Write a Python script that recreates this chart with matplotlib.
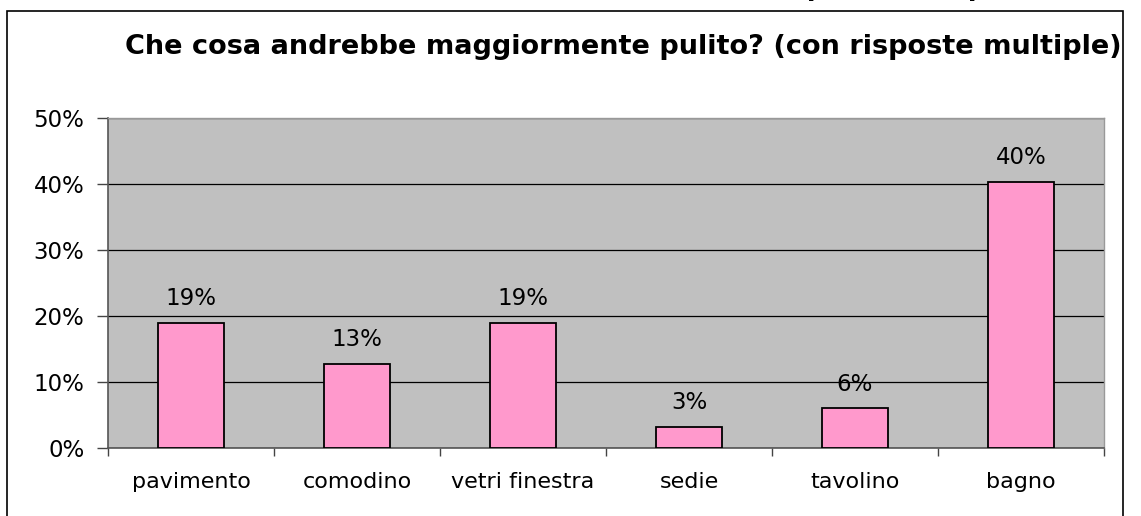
import matplotlib.pyplot as plt
from matplotlib.patches import Rectangle
from matplotlib.ticker import FuncFormatter, FixedLocator

categories = ['pavimento', 'comodino', 'vetri finestra', 'sedie', 'tavolino', 'bagno']
values = [19.0, 12.8, 19.0, 3.2, 6.0, 40.3]
title = 'Che cosa andrebbe maggiormente pulito? (con risposte multiple)'

plt.rcParams['font.family'] = ['DejaVu Sans']

W, H = 1141, 516
fig = plt.figure(figsize=(W / 100, H / 100), dpi=100)
ax = fig.add_axes([108 / W, 1 - 448 / H, (1104 - 108) / W, (448 - 118) / H])

x = list(range(len(categories)))
ax.bar(x, values, width=0.4, color='#FF99CC', edgecolor='black', linewidth=1.3, zorder=3)
for xi, v in zip(x, values):
    ax.text(xi, v + 1.9, '{:.0f}%'.format(v), ha='center', va='bottom', fontsize=16.5)

ax.set_facecolor('#C0C0C0')
ax.set_xlim(-0.5, len(categories) - 0.5)
ax.set_ylim(0, 50)
ax.set_yticks([0, 10, 20, 30, 40, 50])
ax.yaxis.set_major_formatter(FuncFormatter(lambda v, p: '{:.0f}%'.format(v)))
ax.grid(axis='y', color='black', linewidth=0.9, zorder=1)
ax.set_axisbelow(True)

ax.set_xticks(x)
ax.set_xticklabels(categories, fontsize=16)
ax.xaxis.set_minor_locator(FixedLocator([i - 0.5 for i in range(len(categories) + 1)]))
ax.tick_params(axis='x', which='major', length=0, pad=17)
ax.tick_params(axis='x', which='minor', length=6, width=1, color='#444444', direction='out')
ax.tick_params(axis='y', length=8, width=1, color='#444444', direction='out', labelsize=16.5, pad=9)

for s in ['left', 'bottom']:
    ax.spines[s].set_color('#555555')
    ax.spines[s].set_linewidth(1.2)
for s in ['top', 'right']:
    ax.spines[s].set_color('#999999')
    ax.spines[s].set_linewidth(1.0)

fig.text(623 / W, 1 - 47 / H, title, ha='center', va='center', fontsize=19.5, fontweight='bold')
# the title of the chart above, cut off by the top edge
fig.text(862 / W, 1 + 11 / H, '(con risposte multiple)', ha='center', va='center',
         fontsize=18, fontweight='bold')

fig.patches.append(Rectangle((7 / W, -0.05), (1123 - 7) / W, 1.05 - 11 / H,
                             transform=fig.transFigure, fill=False, edgecolor='black',
                             linewidth=1.2))

fig.savefig('out.png', dpi=100)
